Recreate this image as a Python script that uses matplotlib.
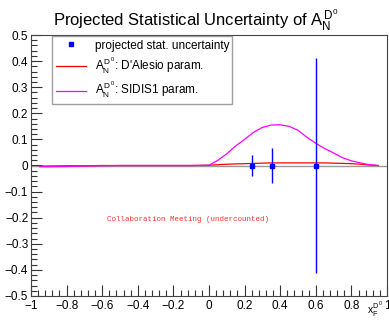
import matplotlib
matplotlib.use("Agg")
import matplotlib.pyplot as plt
from matplotlib.ticker import MultipleLocator, FuncFormatter
from matplotlib.lines import Line2D

plt.rcParams['font.family'] = ['Liberation Sans', 'DejaVu Sans']
plt.rcParams['mathtext.fontset'] = 'custom'
plt.rcParams['mathtext.rm'] = 'Liberation Sans'
plt.rcParams['mathtext.it'] = 'Liberation Sans'
plt.rcParams['mathtext.bf'] = 'Liberation Sans:bold'

# Data
curve_x = [-0.95, -0.9, -0.8, -0.7, -0.6, -0.5, -0.4, -0.3, -0.2, -0.1, 0.0,
           0.05, 0.1, 0.15, 0.2, 0.25, 0.3, 0.35, 0.4, 0.45, 0.5, 0.55, 0.6,
           0.65, 0.7, 0.75, 0.8, 0.85, 0.9, 0.95]
sidis1 = [-0.005, -0.005, -0.004, -0.002, -0.001, 0.0, 0.0, 0.0, 0.0, 0.0, 0.001,
          0.02, 0.045, 0.075, 0.1, 0.127, 0.146, 0.155, 0.156, 0.15, 0.135, 0.108, 0.085,
          0.065, 0.048, 0.03, 0.018, 0.01, 0.003, 0.0]
dalesio = [-0.002, -0.002, -0.001, -0.001, 0.0, 0.0, 0.0, 0.0, 0.0, 0.0, 0.001,
           0.003, 0.005, 0.006, 0.007, 0.008, 0.009, 0.01, 0.01, 0.01, 0.01, 0.01, 0.01,
           0.01, 0.009, 0.008, 0.007, 0.005, 0.002, 0.0]
pts_x = [0.24, 0.355, 0.60]
pts_y = [0.0, 0.0, 0.0]
pts_err = [0.041, 0.067, 0.41]

fig = plt.figure(figsize=(3.89, 3.2), dpi=100)
ax = fig.add_axes([31/389, 24/320, 356/389, 261/320])

ax.axhline(0, color='#999999', lw=1.0, zorder=1)
ax.plot(curve_x, dalesio, color='#ff0000', lw=0.9, zorder=2)
ax.plot(curve_x, sidis1, color='#ff00ff', lw=0.9, zorder=2)
ax.errorbar(pts_x, pts_y, yerr=pts_err, fmt='s', color='#0000ff', ms=2.5,
            elinewidth=1.0, capsize=0, zorder=3, lw=0)

ax.set_xlim(-1, 1)
ax.set_ylim(-0.5, 0.5)
ax.xaxis.set_major_locator(MultipleLocator(0.2))
ax.xaxis.set_minor_locator(MultipleLocator(0.04))
ax.yaxis.set_major_locator(MultipleLocator(0.1))
ax.yaxis.set_minor_locator(MultipleLocator(0.02))
fmt = FuncFormatter(lambda v, p: ('%g' % round(v, 6)).replace('-', '\u2212'))
ax.xaxis.set_major_formatter(fmt)
ax.yaxis.set_major_formatter(fmt)
ax.tick_params(which='both', direction='in', top=False, right=False, labelsize=8.5,
               color='#333333', width=0.8)
ax.tick_params(which='major', length=8, pad=2)
ax.tick_params(axis='x', which='major', pad=3)
ax.tick_params(which='minor', length=4)
for s in ax.spines.values():
    s.set_linewidth(0.8)
    s.set_color('#444444')

handles = [Line2D([], [], ls='none', marker='s', ms=2.5, color='#0000ff'),
           Line2D([], [], color='#ff0000', lw=0.9),
           Line2D([], [], color='#ff00ff', lw=0.9)]
labels = ['projected stat. uncertainty',
          r"$A_N^{D^0}$: D'Alesio param.",
          r"$A_N^{D^0}$: SIDIS1 param."]
leg = ax.legend(handles, labels,
                loc='upper left', bbox_to_anchor=(0.059, 0.747, 0.506, 0.249),
                mode='expand', fontsize=8.5, frameon=True, fancybox=False,
                edgecolor='#888888', handlelength=2.6, handletextpad=0.75,
                labelspacing=0.35, borderpad=0.3, borderaxespad=0)
leg.get_frame().set_linewidth(1.0)

ax.text(-0.12, -0.205, 'Collaboration Meeting (undercounted)', color='#ff3333',
        fontsize=5.4, family='Liberation Mono', ha='center', va='center')

fig.text(0.504, 0.935, r"Projected Statistical Uncertainty of $A_N^{D^0}$",
         ha='center', va='center', fontsize=12)
fig.text(0.985, 0.032, r"$x_F^{D^0}$", ha='right', va='center', fontsize=7.5)

fig.savefig('out.png', dpi=100)
